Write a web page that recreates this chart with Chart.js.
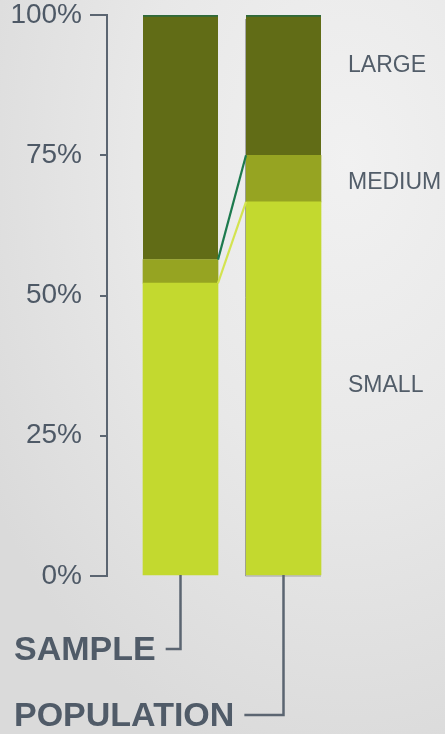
<!DOCTYPE html>
<html><head><meta charset="utf-8">
<script src="https://cdn.jsdelivr.net/npm/chart.js@4"></script>
<style>
html,body{margin:0;padding:0;}
body{width:445px;height:734px;overflow:hidden;background:radial-gradient(ellipse 95% 85% at 78% 22%, #f1f1f1 0%, #e8e8e8 50%, #dadada 100%);}
#wrap{position:relative;width:445px;height:734px;}
</style></head><body><div id="wrap"><canvas id="c" width="445" height="734"></canvas></div>
<script>
const categories = ['SAMPLE', 'POPULATION'];
const categoryPositions = [1, 2];
const smallShare = [52.2, 66.7];
const mediumShare = [4.2, 8.3];
const largeShare = [43.6, 25.0];
const yTickValues = [0, 25, 50, 75, 100];
const segmentNames = ['SMALL', 'MEDIUM', 'LARGE'];
const segmentLabelAt = [33.9, 70.2, 90.9];

const AXIS = '#5b6571';
const TEXT = '#4e5966';

function pts(arr) { return categoryPositions.map((x, i) => ({ x: x, y: arr[i] })); }

const overlay = {
  id: 'overlay',
  afterDatasetsDraw(chart) {
    const ctx = chart.ctx;
    const ys = chart.scales.y;
    const m = [0, 1, 2].map(i => chart.getDatasetMeta(i));
    ctx.save();
    // grey edge along population bar
    const pb = m[0].data[1], pt = m[2].data[1];
    ctx.strokeStyle = 'rgba(120,120,120,0.6)';
    ctx.lineWidth = 1;
    ctx.beginPath();
    ctx.moveTo(Math.round(pb.x - pb.width / 2) - 0.5, pt.y + 4);
    ctx.lineTo(Math.round(pb.x - pb.width / 2) - 0.5, pb.base + 1);
    ctx.lineTo(pb.x + pb.width / 2, pb.base + 1);
    ctx.stroke();
    // connectors
    const connColors = ['#d3e350', '#1d7a4e'];
    [0, 1].forEach(k => {
      const a = m[k].data[0], b = m[k].data[1];
      ctx.strokeStyle = connColors[k];
      ctx.lineWidth = 2.2;
      ctx.beginPath();
      ctx.moveTo(a.x + a.width / 2, a.y);
      ctx.lineTo(b.x - b.width / 2, b.y);
      ctx.stroke();
    });
    // extended end ticks
    ctx.strokeStyle = AXIS;
    ctx.lineWidth = 2;
    [0, 100].forEach(v => {
      const y = Math.round(ys.getPixelForValue(v));
      ctx.beginPath();
      ctx.moveTo(ys.right - 17, y);
      ctx.lineTo(ys.right, y);
      ctx.stroke();
    });
    // category leader lines and labels
    const drops = [74, 140];
    ctx.font = 'bold 34px "Liberation Sans", Arial, sans-serif';
    ctx.textBaseline = 'middle';
    ctx.textAlign = 'left';
    categories.forEach((c, i) => {
      const bar = m[0].data[i];
      const ly = bar.base + drops[i];
      const w = ctx.measureText(c).width;
      ctx.strokeStyle = AXIS;
      ctx.lineWidth = 2.5;
      ctx.beginPath();
      ctx.moveTo(bar.x, bar.base);
      ctx.lineTo(bar.x, ly);
      ctx.lineTo(14 + w + 10, ly);
      ctx.stroke();
      ctx.fillStyle = '#505b68';
      ctx.fillText(c, 14, ly + 2);
    });
    // segment labels
    ctx.font = '23px "Liberation Sans", Arial, sans-serif';
    ctx.fillStyle = '#525d69';
    segmentNames.forEach((s, k) => {
      ctx.fillText(s, 348, ys.getPixelForValue(segmentLabelAt[k]));
    });
    ctx.restore();
  }
};

new Chart(document.getElementById('c'), {
  type: 'bar',
  data: {
    datasets: [
      { label: 'Small', data: pts(smallShare), backgroundColor: '#c3d92f', borderWidth: 0, barThickness: 75 },
      { label: 'Medium', data: pts(mediumShare), backgroundColor: '#96a422', borderWidth: 0, barThickness: 75 },
      { label: 'Large', data: pts(largeShare), backgroundColor: '#616c16', borderColor: '#2f6a3c',
        borderWidth: { top: 2, left: 0, right: 0, bottom: 0 }, borderSkipped: false, barThickness: 75 }
    ]
  },
  options: {
    responsive: false,
    animation: false,
    layout: { padding: { top: 0, bottom: 158, left: 10, right: 105 } },
    plugins: { legend: { display: false }, tooltip: { enabled: false } },
    scales: {
      x: { type: 'linear', min: 0.2864, max: 2.5485, display: false, stacked: true, offset: false, grid: { offset: false } },
      y: {
        min: 0, max: 100, stacked: true,
        afterFit: s => { s.width = 97; s.paddingTop = 15; s.paddingBottom = 0; },
        afterBuildTicks: s => { s.ticks = yTickValues.map(v => ({ value: v })); },
        ticks: {
          callback: v => v + '%',
          font: { family: '"Liberation Sans", Arial, sans-serif', size: 28, lineHeight: 1 },
          color: TEXT, padding: 18
        },
        grid: { drawOnChartArea: false, drawTicks: true, tickLength: 7, color: AXIS, lineWidth: 2 },
        border: { display: true, color: AXIS, width: 2 }
      }
    }
  },
  plugins: [overlay]
});
</script></body></html>
